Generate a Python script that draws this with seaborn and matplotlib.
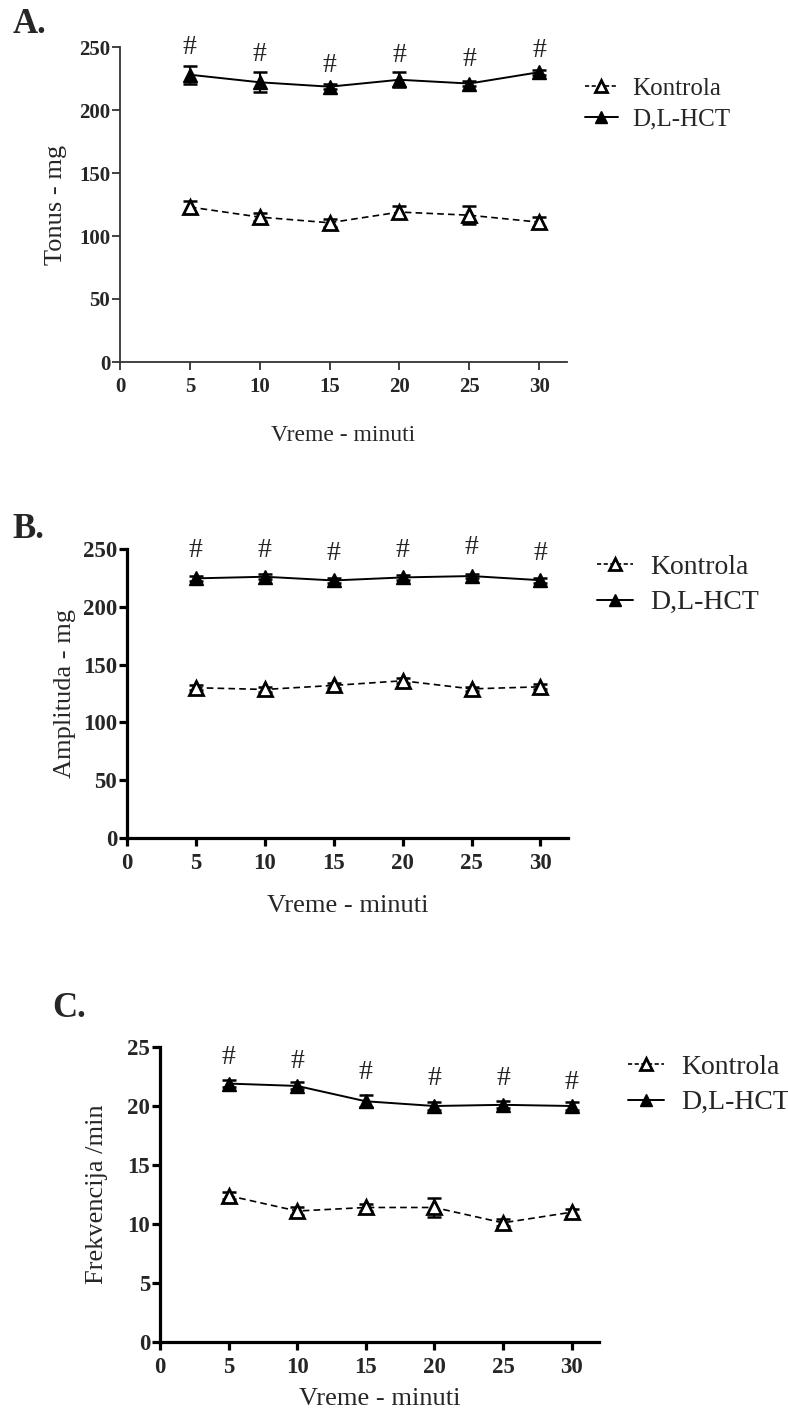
import matplotlib
matplotlib.use("Agg")
import matplotlib.pyplot as plt
import seaborn as sns
from matplotlib.lines import Line2D

# vreme (minuti)
vreme = [5, 10, 15, 20, 25, 30]

# A. Tonus - mg
tonus_kontrola = [123, 115, 110.5, 119, 116.5, 111]
tonus_kontrola_sem = [5, 3, 3, 5, 7, 4]
tonus_hct = [228, 222, 218.5, 224, 221, 230]
tonus_hct_sem = [7, 8, 2, 6, 2, 2]
tonus_hash = [250, 244, 235, 243.5, 240, 247.5]

# B. Amplituda - mg
ampl_kontrola = [130, 128.5, 132, 136, 129, 130.8]
ampl_kontrola_sem = [2, 2, 2, 2, 2, 2]
ampl_hct = [224.6, 226, 222.8, 225.4, 226.6, 223]
ampl_hct_sem = [2, 2, 2, 2, 2, 2]
ampl_hash = [249, 249, 246, 249, 251, 246]

# C. Frekvencija /min
frek_kontrola = [12.4, 11.1, 11.4, 11.4, 10.1, 11.0]
frek_kontrola_sem = [0.3, 0.3, 0.3, 0.8, 0.3, 0.3]
frek_hct = [21.9, 21.7, 20.4, 20.0, 20.1, 20.0]
frek_hct_sem = [0.3, 0.3, 0.5, 0.3, 0.3, 0.3]
frek_hash = [24.1, 23.8, 22.8, 22.3, 22.3, 22.0]

labels = ["Kontrola", "D,L-HCT"]

sns.set_theme(style="ticks")
plt.rcParams['font.family'] = ['Liberation Serif', 'DejaVu Serif']

fig = plt.figure(figsize=(7.88, 14.14), dpi=100)
W, H = 788, 1414


def px_axes(left, top, right, bottom):
    return fig.add_axes([left / W, 1 - bottom / H, (right - left) / W, (bottom - top) / H])


def panel(ax, kontrola, k_sem, hct, h_sem, hashes, ymax, ystep, ylabel,
          spine_w, spine_col, tick_fs, xlabel_fs, legend_fs, xlabelpad, ylabelpad, legend_xy):
    ax.errorbar(vreme, kontrola, yerr=k_sem, fmt='none', ecolor='black',
                elinewidth=1.5, capsize=5, capthick=1.8, zorder=2, clip_on=False)
    ax.errorbar(vreme, hct, yerr=h_sem, fmt='none', ecolor='black',
                elinewidth=1.5, capsize=5, capthick=1.8, zorder=2, clip_on=False)
    sns.lineplot(x=vreme, y=kontrola, ax=ax, color='black', linestyle=(0, (4, 2.5)),
                 linewidth=1.2, marker='^', markersize=10, markerfacecolor='white',
                 markeredgecolor='black', markeredgewidth=2, errorbar=None,
                 zorder=3, clip_on=False)
    sns.lineplot(x=vreme, y=hct, ax=ax, color='black', linewidth=1.4,
                 marker='^', markersize=10, markerfacecolor='black',
                 markeredgecolor='black', markeredgewidth=1, errorbar=None,
                 zorder=3, clip_on=False)
    for x, y in zip(vreme, hashes):
        ax.text(x, y, "#", ha='center', va='center', fontsize=20, color='#222222')

    ax.set_xlim(0, 32)
    ax.set_ylim(0, ymax)
    ax.set_xticks(range(0, 31, 5))
    ax.set_yticks([i * ystep for i in range(6)])
    for s in ['top', 'right']:
        ax.spines[s].set_visible(False)
    for s in ['left', 'bottom']:
        ax.spines[s].set_linewidth(spine_w)
        ax.spines[s].set_color(spine_col)
    ax.tick_params(axis='both', length=6, width=spine_w, color=spine_col,
                   labelsize=tick_fs, direction='out')
    ax.tick_params(axis='x', pad=5)
    ax.tick_params(axis='y', pad=1)
    for t in ax.get_xticklabels() + ax.get_yticklabels():
        t.set_fontweight('bold')
    ax.set_xlabel("Vreme - minuti", fontsize=xlabel_fs, labelpad=xlabelpad)
    ax.set_ylabel(ylabel, fontsize=19, labelpad=ylabelpad)

    handles = [
        Line2D([], [], color='black', linestyle=(0, (2.5, 1.5)), linewidth=1.2, marker='^',
               markersize=9, markerfacecolor='white', markeredgecolor='black',
               markeredgewidth=2),
        Line2D([], [], color='black', linewidth=1.4, marker='^', markersize=9,
               markerfacecolor='black', markeredgecolor='black'),
    ]
    ax.legend(handles, labels, loc='center left',
              bbox_to_anchor=(legend_xy[0] / W, 1 - legend_xy[1] / H),
              bbox_transform=fig.transFigure, frameon=False, fontsize=legend_fs,
              handlelength=1.3, handletextpad=0.6, labelspacing=0.35,
              borderaxespad=0, borderpad=0)


ax_a = px_axes(120, 47, 567, 362)
panel(ax_a, tonus_kontrola, tonus_kontrola_sem, tonus_hct, tonus_hct_sem, tonus_hash,
      250, 50, "Tonus - mg", 1.3, '#333333', 15, 17, 18, 20, 9, (585, 104))

ax_b = px_axes(127, 549, 568, 838)
panel(ax_b, ampl_kontrola, ampl_kontrola_sem, ampl_hct, ampl_hct_sem, ampl_hash,
      250, 50, "Amplituda - mg", 2.3, 'black', 16.5, 19, 20, 15, 5, (597, 585))

ax_c = px_axes(160, 1047, 599, 1342)
panel(ax_c, frek_kontrola, frek_kontrola_sem, frek_hct, frek_hct_sem, frek_hash,
      25, 5, "Frekvencija /min", 2.3, 'black', 16.5, 19, 20, 7, 14, (628, 1085))

fig.text(13 / W, 1 - 33 / H, "A.", fontsize=25, fontweight='bold', va='baseline')
fig.text(12 / W, 1 - 538 / H, "B.", fontsize=25, fontweight='bold', va='baseline')
fig.text(52 / W, 1 - 1017 / H, "C.", fontsize=25, fontweight='bold', va='baseline')

fig.savefig("out.png", dpi=100)
